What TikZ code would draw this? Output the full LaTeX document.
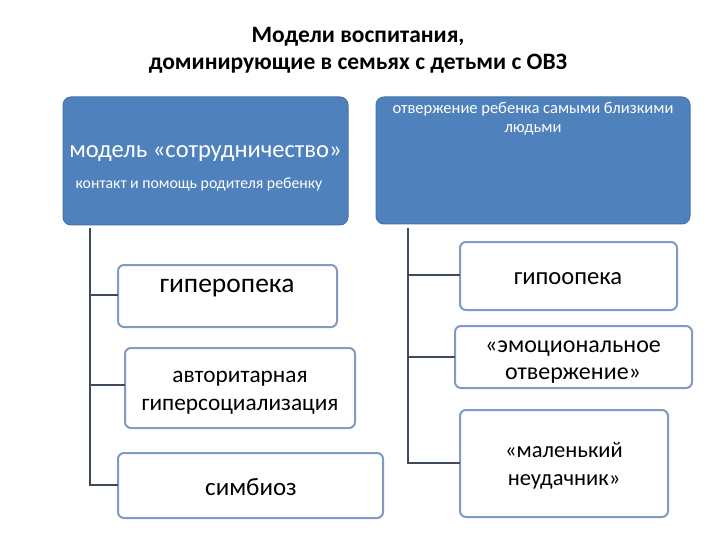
\documentclass[tikz,border=0pt]{standalone}
\usepackage{fontspec}
\setmainfont{Carlito}
\definecolor{hdr}{HTML}{4F81BD}
\definecolor{edge}{HTML}{7F9CC0}
\definecolor{conn}{HTML}{3D4B5C}
\begin{document}
\begin{tikzpicture}[x=1pt,y=-1pt,
  hdrbox/.style={draw=hdr!90!black, fill=hdr, rounded corners=8pt, line width=1pt},
  leaf/.style={draw=edge, fill=white, rounded corners=6pt, line width=2pt},
  conline/.style={draw=conn, line width=1.5pt}]
\useasboundingbox (0,0) rectangle (720,540);
% title
\node[font=\bfseries\fontsize{23.5}{27}\selectfont, align=center] (title) at (358,50)
  {Модели воспитания,\\доминирующие в семьях с детьми с ОВЗ};
% header boxes
\draw[hdrbox] (63,97) rectangle (348,225);
\node[text=white, font=\fontsize{24.5}{28}\selectfont] (coop) at (205.5,154) {модель «сотрудничество»};
\node[text=white, font=\fontsize{15.8}{18}\selectfont] (coopsub) at (199,184) {контакт и помощь родителя ребенку};
\draw[hdrbox] (376,97) rectangle (690,224);
\node[text=white, font=\fontsize{16.5}{19}\selectfont, align=center, anchor=north] (rej) at (533,99) {отвержение ребенка самыми близкими\\людьми};
% left leaves
\draw[leaf] (118,265) rectangle (337,327);
\node[font=\fontsize{27.5}{30}\selectfont] (l1) at (227,288) {гиперопека};
\draw[leaf] (125,348) rectangle (355,428);
\node[font=\fontsize{23.3}{28}\selectfont, align=center] (l2) at (240,393) {авторитарная\\гиперсоциализация};
\draw[leaf] (118,453) rectangle (383,518);
\node[font=\fontsize{25}{28}\selectfont] (l3) at (251,487) {симбиоз};
% right leaves
\draw[leaf] (460,242) rectangle (677,310);
\node[font=\fontsize{24.6}{28}\selectfont] (r1) at (568,279) {гипоопека};
\draw[leaf] (455,326) rectangle (692,388);
\node[font=\fontsize{24}{27}\selectfont, align=center] (r2) at (573,362) {«эмоциональное\\отвержение»};
\draw[leaf] (460,410) rectangle (668,517);
\node[font=\fontsize{22.5}{28}\selectfont, align=center] (r3) at (564,466) {«маленький\\неудачник»};
% connectors
\coordinate (lt) at (90,228);
\coordinate (lb) at (90,485);
\coordinate (rt) at (408,228);
\coordinate (rb) at (408,463);
\draw[conline] (lt) -- (lb) -- (118,485);
\draw[conline] (90,295) -- (118,295);
\draw[conline] (90,385) -- (125,385);
\draw[conline] (rt) -- (rb) -- (460,463);
\draw[conline] (408,275) -- (460,275);
\draw[conline] (408,357) -- (455,357);
\end{tikzpicture}
\end{document}
